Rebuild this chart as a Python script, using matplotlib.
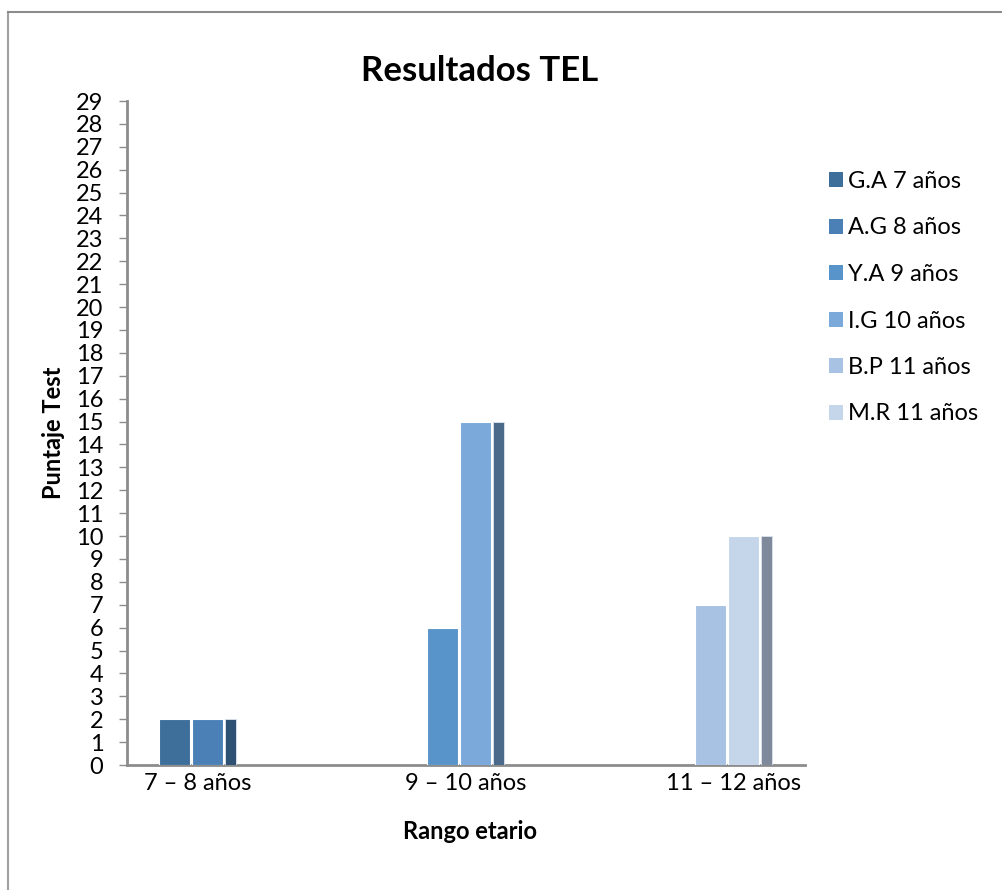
import numpy as np
import matplotlib.pyplot as plt
from matplotlib.lines import Line2D
from matplotlib.patches import Patch

plt.rcParams["font.family"] = ["Lato", "DejaVu Sans"]

CATEGORIES = ["7 – 8 años", "9 – 10 años", "11 – 12 años"]
SERIES = ["G.A 7 años", "A.G 8 años", "Y.A 9 años", "I.G 10 años", "B.P 11 años", "M.R 11 años"]

# score per series, one value per age range (0 = not in that range)
GA = [2, 0, 0]
AG = [2, 0, 0]
YA = [0, 6, 0]
IG = [0, 15, 0]
BP = [0, 0, 7]
MR = [0, 0, 10]
VALUES = [GA, AG, YA, IG, BP, MR]

COLORS = ["#3e6e9a", "#4a80b6", "#5894c9", "#7aa9da", "#a8c2e4", "#c5d6eb"]
DEPTH_COLORS = ["#2f5173", "#4b6a8a", "#7e8a9b"]

W, H = 1002, 890
fig = plt.figure(figsize=(W / 100, H / 100), dpi=100)

# outer chart border (top and left visible)
fig.add_artist(Line2D([8 / W, 8 / W], [0, 1 - 12 / H], transform=fig.transFigure,
                      color="#a0a0a0", lw=1.5))
fig.add_artist(Line2D([8 / W, 1], [1 - 12 / H, 1 - 12 / H], transform=fig.transFigure,
                      color="#8c8c8c", lw=1.5))

ax = fig.add_axes([127 / W, 1 - 765 / H, 678 / W, 664 / H])

unit = 268.0
bar_w = 31 / unit
step = 33 / unit
depth_w = 11 / unit
x = np.arange(len(CATEGORIES))

for ci in range(len(CATEGORIES)):
    vals = [(si, VALUES[si][ci]) for si in range(len(SERIES)) if VALUES[si][ci] > 0]
    span = step * len(vals) + depth_w
    left = x[ci] - span / 2
    for k, (si, v) in enumerate(vals):
        ax.bar(left + k * step, v, width=bar_w, align="edge", color=COLORS[si],
               edgecolor="white", linewidth=0.8, zorder=3)
    last = vals[-1][1]
    ax.bar(left + len(vals) * step, last, width=depth_w, align="edge",
           color=DEPTH_COLORS[ci], edgecolor="#dde4ee", linewidth=0.6, zorder=3)

ax.set_xlim(-70.5 / unit, 2 + (805 - 733.5) / unit)
ax.set_ylim(0, 29)
ax.set_yticks(range(0, 30))
ax.set_xticks(x)
ax.set_xticklabels(CATEGORIES, fontsize=17)
ax.tick_params(axis="y", direction="out", length=6, width=1, color="#8c8c8c",
               labelsize=17, pad=11)
ax.tick_params(axis="x", length=0, pad=6)

for s in ["top", "right"]:
    ax.spines[s].set_visible(False)
for s in ["left", "bottom"]:
    ax.spines[s].set_color("#8c8c8c")
    ax.spines[s].set_linewidth(2)

ax.set_ylabel("Puntaje Test", fontsize=17, fontweight="bold")
ax.yaxis.set_label_coords(-0.091, 0.5)
ax.set_xlabel("Rango etario", fontsize=17, fontweight="bold")
ax.xaxis.set_label_coords(0.506, -0.083)

fig.text(480 / W, 1 - 71 / H, "Resultados TEL", ha="center", va="center",
         fontsize=25, fontweight="bold")

handles = [Patch(facecolor=c, edgecolor="none") for c in COLORS]
fig.legend(handles, SERIES, loc="upper left", bbox_to_anchor=(829 / W, 1 - 171 / H),
           frameon=False, fontsize=17, handlelength=0.6, handleheight=0.6,
           handletextpad=0.2, labelspacing=1.08, borderaxespad=0, borderpad=0)

fig.savefig("out.png", dpi=100)
